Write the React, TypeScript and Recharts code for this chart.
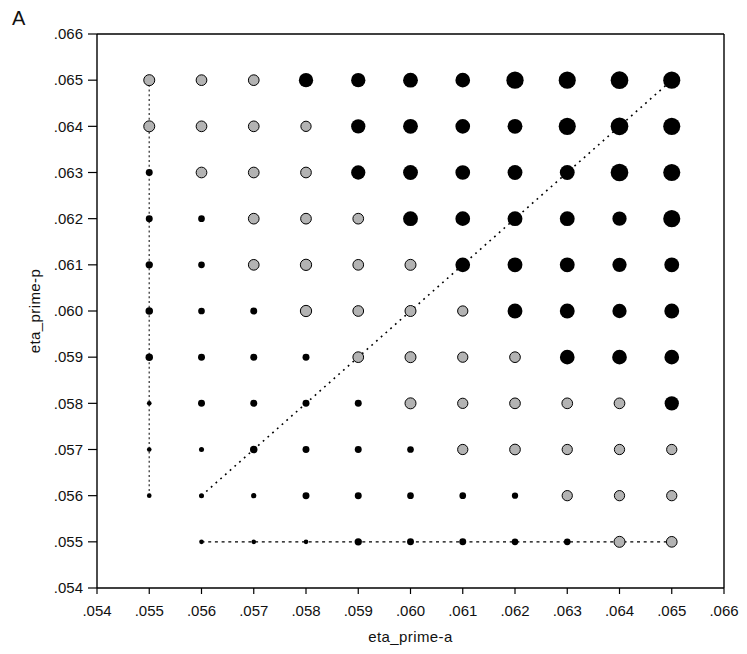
import React from 'react';
import { ScatterChart, Scatter, XAxis, YAxis, ZAxis, ReferenceLine } from 'recharts';

const xTicks = [0.054, 0.055, 0.056, 0.057, 0.058, 0.059, 0.06, 0.061, 0.062, 0.063, 0.064, 0.065, 0.066];
const yTicks = [0.054, 0.055, 0.056, 0.057, 0.058, 0.059, 0.06, 0.061, 0.062, 0.063, 0.064, 0.065, 0.066];

// columns: eta_prime-a values; rows: eta_prime-p values
const aValues = [0.055, 0.056, 0.057, 0.058, 0.059, 0.06, 0.061, 0.062, 0.063, 0.064, 0.065];
const pValues = [0.065, 0.064, 0.063, 0.062, 0.061, 0.06, 0.059, 0.058, 0.057, 0.056, 0.055];

// bubble magnitudes per row (null = no point)
const z065 = [9.5, 9.0, 9.0, 16, 16, 17.3, 17, 23.5, 23, 24.5, 23];
const z064 = [9.5, 9.0, 9.0, 8.3, 16, 17.3, 17, 17.3, 23, 24.5, 23];
const z063 = [3.8, 9.0, 9.0, 9.0, 16, 17.3, 17, 17.3, 17.3, 24.5, 23];
const z062 = [3.8, 3.5, 9.0, 9.0, 9.0, 17.3, 17, 17.3, 17.3, 16, 23];
const z061 = [4.2, 3.5, 9.0, 10, 9.0, 9.5, 17, 17.3, 17.3, 16, 17.3];
const z060 = [4.4, 3.5, 3.8, 10, 9.0, 9.5, 8.3, 17.3, 17.3, 16, 17.3];
const z059 = [4.4, 3.8, 3.8, 3.8, 9.0, 9.5, 8.3, 9.0, 17, 17, 17];
const z058 = [1.7, 3.8, 3.8, 3.8, 3.8, 9.5, 8.3, 9.0, 9.0, 9.0, 16];
const z057 = [1.7, 2.0, 4.4, 3.8, 3.8, 3.5, 8.3, 9.0, 8.3, 8.3, 8.3];
const z056 = [1.7, 2.0, 2.2, 3.8, 3.8, 3.5, 3.5, 3.1, 8.3, 8.3, 8.3];
const z055 = [null, 1.7, 1.7, 1.7, 4.2, 3.8, 3.8, 3.5, 3.5, 9.5, 9.0];

// group per row: B = black, G = gray
const g065 = ['G', 'G', 'G', 'B', 'B', 'B', 'B', 'B', 'B', 'B', 'B'];
const g064 = ['G', 'G', 'G', 'G', 'B', 'B', 'B', 'B', 'B', 'B', 'B'];
const g063 = ['B', 'G', 'G', 'G', 'B', 'B', 'B', 'B', 'B', 'B', 'B'];
const g062 = ['B', 'B', 'G', 'G', 'G', 'B', 'B', 'B', 'B', 'B', 'B'];
const g061 = ['B', 'B', 'G', 'G', 'G', 'G', 'B', 'B', 'B', 'B', 'B'];
const g060 = ['B', 'B', 'B', 'G', 'G', 'G', 'G', 'B', 'B', 'B', 'B'];
const g059 = ['B', 'B', 'B', 'B', 'G', 'G', 'G', 'G', 'B', 'B', 'B'];
const g058 = ['B', 'B', 'B', 'B', 'B', 'G', 'G', 'G', 'G', 'G', 'B'];
const g057 = ['B', 'B', 'B', 'B', 'B', 'B', 'G', 'G', 'G', 'G', 'G'];
const g056 = ['B', 'B', 'B', 'B', 'B', 'B', 'B', 'B', 'G', 'G', 'G'];
const g055 = ['-', 'B', 'B', 'B', 'B', 'B', 'B', 'B', 'B', 'G', 'G'];

// dotted reference paths
const verticalPath = [{ x: 0.055, y: 0.065 }, { x: 0.055, y: 0.056 }];
const diagonalPath = [{ x: 0.056, y: 0.056 }, { x: 0.065, y: 0.065 }];
const horizontalPath = [{ x: 0.056, y: 0.055 }, { x: 0.065, y: 0.055 }];

const zRows = [z065, z064, z063, z062, z061, z060, z059, z058, z057, z056, z055];
const gRows = [g065, g064, g063, g062, g061, g060, g059, g058, g057, g056, g055];

type Pt = { x: number; y: number; z: number };
const blackPts: Pt[] = [];
const grayPts: Pt[] = [];
pValues.forEach((p, ri) => {
  aValues.forEach((a, ci) => {
    const z = zRows[ri][ci];
    const g = gRows[ri][ci];
    if (z == null) return;
    if (g === 'B') blackPts.push({ x: a, y: p, z });
    else if (g === 'G') grayPts.push({ x: a, y: p, z });
  });
});

const fmt = (v: number) => v.toFixed(3).replace(/^0/, '');
const FONT = "Arial, 'Liberation Sans', sans-serif";
const tickStyle = { fontSize: 15, fill: '#111', fontFamily: FONT };
const titleStyle = { fontSize: 15, fill: '#111', fontFamily: FONT, letterSpacing: 0.4 };

const NoShape = () => <g />;

export default function App() {
  return (
    <div style={{ position: 'absolute', left: 0, top: 0, width: 747, height: 654, background: '#fff' }}>
      <div
        style={{
          position: 'absolute',
          left: 12,
          top: 7,
          fontSize: 20,
          fontFamily: FONT,
          color: '#111',
          lineHeight: 'normal',
        }}
      >
        A
      </div>
      <ScatterChart width={747} height={654} margin={{ top: 34, right: 23, bottom: 0, left: 0 }}>
        <XAxis
          type="number"
          dataKey="x"
          domain={[0.054, 0.066]}
          ticks={xTicks}
          interval={0}
          tickFormatter={fmt}
          height={66}
          tickSize={6}
          tickMargin={11}
          tick={tickStyle}
          axisLine={{ stroke: '#000', strokeWidth: 1.4 }}
          tickLine={{ stroke: '#000', strokeWidth: 1.2 }}
          allowDataOverflow
          label={{ value: 'eta_prime-a', position: 'insideBottom', offset: 12, style: titleStyle }}
        />
        <YAxis
          type="number"
          dataKey="y"
          domain={[0.054, 0.066]}
          ticks={yTicks}
          interval={0}
          tickFormatter={fmt}
          width={97}
          tickSize={9}
          tickMargin={5}
          tick={tickStyle}
          axisLine={{ stroke: '#000', strokeWidth: 1.4 }}
          tickLine={{ stroke: '#000', strokeWidth: 1.2 }}
          allowDataOverflow
          label={{
            value: 'eta_prime-p',
            angle: -90,
            position: 'insideLeft',
            offset: 35,
            style: { ...titleStyle, textAnchor: 'middle' },
          }}
        />
        <ZAxis type="number" dataKey="z" domain={[0, 25]} range={[0, 250]} />
        <ReferenceLine y={0.066} stroke="#000" strokeWidth={1.4} />
        <ReferenceLine x={0.066} stroke="#000" strokeWidth={1.4} />
        <Scatter
          data={verticalPath}
          line={{ stroke: '#555', strokeWidth: 1.5, strokeDasharray: '2 2.7' }}
          shape={NoShape}
          isAnimationActive={false}
        />
        <Scatter
          data={diagonalPath}
          line={{ stroke: '#000', strokeWidth: 1.6, strokeDasharray: '1.8 4.5' }}
          shape={NoShape}
          isAnimationActive={false}
        />
        <Scatter
          data={horizontalPath}
          line={{ stroke: '#000', strokeWidth: 1.2, strokeDasharray: '3 3.7' }}
          shape={NoShape}
          isAnimationActive={false}
        />
        <Scatter data={grayPts} fill="#b3b3b3" stroke="#000" strokeWidth={1} isAnimationActive={false} />
        <Scatter data={blackPts} fill="#000" isAnimationActive={false} />
      </ScatterChart>
    </div>
  );
}
